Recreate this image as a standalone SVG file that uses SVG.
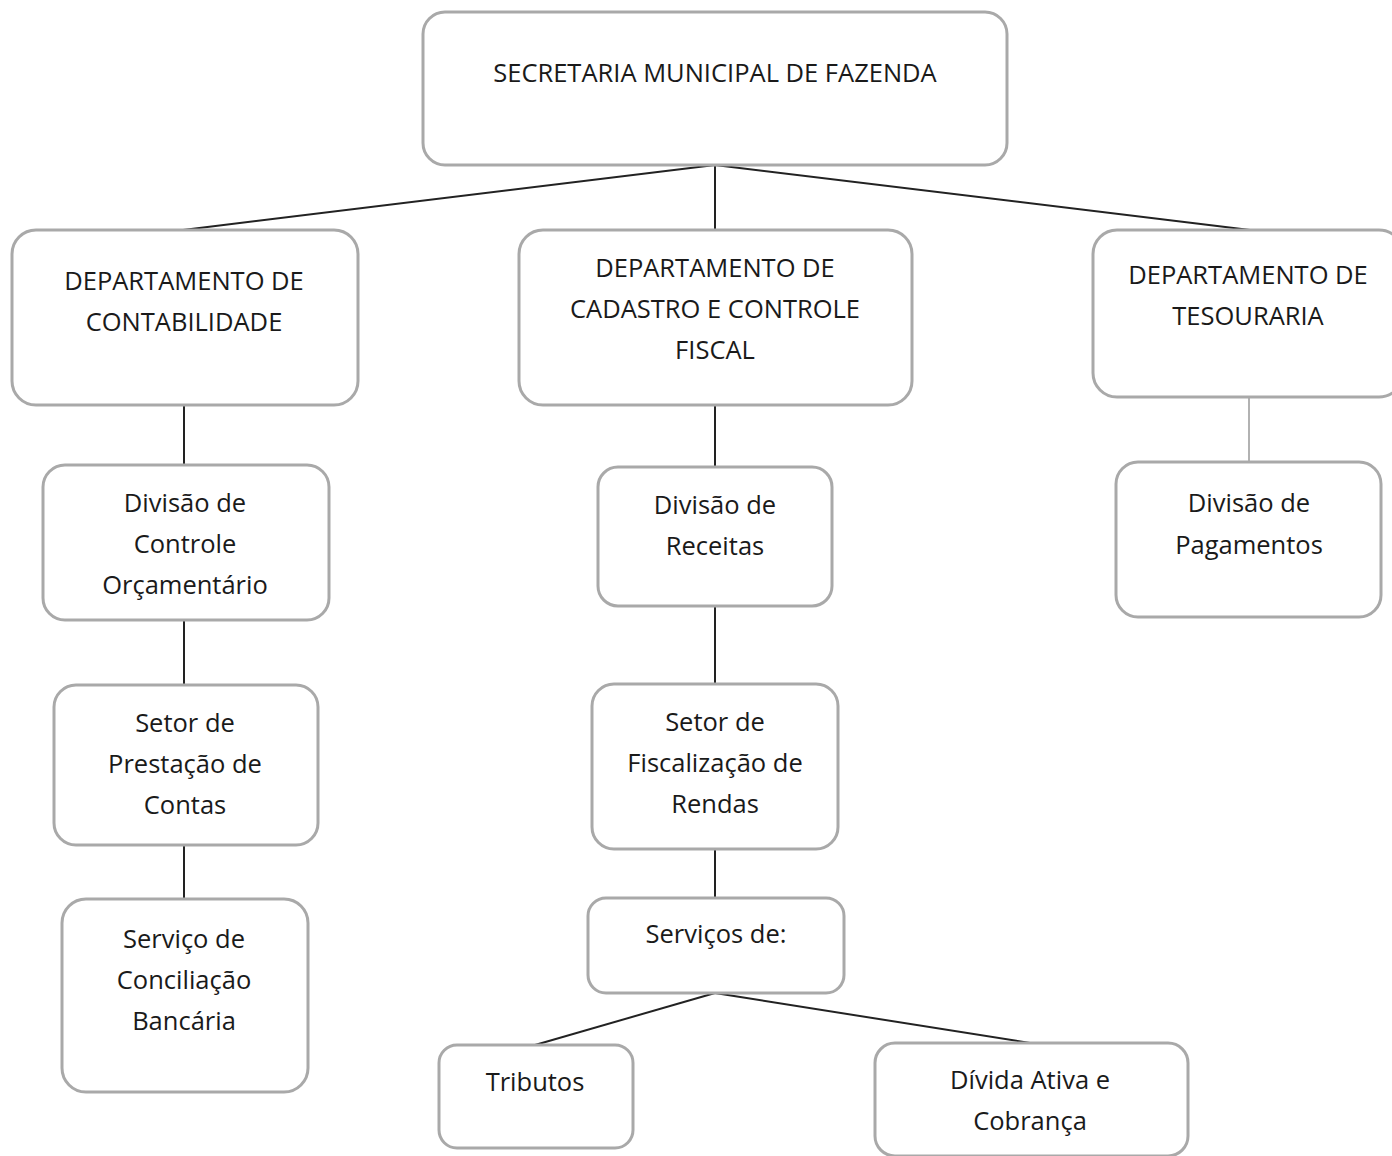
<svg xmlns="http://www.w3.org/2000/svg" width="1392" height="1156" viewBox="0 0 1392 1156">
<style>
.box{fill:#fff;stroke:#a9a9a9;stroke-width:3}
.t{font-family:"Open Sans","Liberation Sans",sans-serif;font-size:25.5px;fill:#1a1a1a;text-anchor:middle}
.c{stroke:#222;stroke-width:2;fill:none}
</style>
<rect width="1392" height="1156" fill="#fff"/>
<g id="connectors">
<line class="c" x1="715" y1="165" x2="183" y2="230"/>
<line class="c" x1="715" y1="165" x2="715" y2="230"/>
<line class="c" x1="715" y1="165" x2="1250" y2="230"/>
<line class="c" x1="184" y1="405" x2="184" y2="465"/>
<line class="c" x1="184" y1="620" x2="184" y2="685"/>
<line class="c" x1="184" y1="845" x2="184" y2="899"/>
<line class="c" x1="715" y1="405" x2="715" y2="467"/>
<line class="c" x1="715" y1="606" x2="715" y2="684"/>
<line class="c" x1="715" y1="849" x2="715" y2="898"/>
<line x1="1249" y1="397" x2="1249" y2="462" stroke="#999" stroke-width="1.5"/>
<line class="c" x1="715" y1="993" x2="535" y2="1045"/>
<line class="c" x1="715" y1="993" x2="1030" y2="1043"/>
</g>
<g id="secretaria"><rect class="box" x="423" y="12" width="584" height="153" rx="22"/>
<text class="t" x="715" y="82">SECRETARIA MUNICIPAL DE FAZENDA</text></g>
<g id="contabilidade"><rect class="box" x="12" y="230" width="346" height="175" rx="24"/>
<text class="t" x="184" y="290">DEPARTAMENTO DE</text><text class="t" x="184" y="331">CONTABILIDADE</text></g>
<g id="cadastro"><rect class="box" x="519" y="230" width="393" height="175" rx="24"/>
<text class="t" x="715" y="277">DEPARTAMENTO DE</text><text class="t" x="715" y="318">CADASTRO E CONTROLE</text><text class="t" x="715" y="359">FISCAL</text></g>
<g id="tesouraria"><rect class="box" x="1093" y="230" width="310" height="167" rx="24"/>
<text class="t" x="1248" y="284">DEPARTAMENTO DE</text><text class="t" x="1248" y="325">TESOURARIA</text></g>
<g id="div-controle"><rect class="box" x="43" y="465" width="286" height="155" rx="22"/>
<text class="t" x="185" y="512">Divisão de</text><text class="t" x="185" y="553">Controle</text><text class="t" x="185" y="594">Orçamentário</text></g>
<g id="div-receitas"><rect class="box" x="598" y="467" width="234" height="139" rx="20"/>
<text class="t" x="715" y="514">Divisão de</text><text class="t" x="715" y="555">Receitas</text></g>
<g id="div-pagamentos"><rect class="box" x="1116" y="462" width="265" height="155" rx="22"/>
<text class="t" x="1249" y="512">Divisão de</text><text class="t" x="1249" y="554">Pagamentos</text></g>
<g id="setor-prestacao"><rect class="box" x="54" y="685" width="264" height="160" rx="22"/>
<text class="t" x="185" y="732">Setor de</text><text class="t" x="185" y="773">Prestação de</text><text class="t" x="185" y="814">Contas</text></g>
<g id="setor-fiscalizacao"><rect class="box" x="592" y="684" width="246" height="165" rx="22"/>
<text class="t" x="715" y="731">Setor de</text><text class="t" x="715" y="772">Fiscalização de</text><text class="t" x="715" y="813">Rendas</text></g>
<g id="servico-conciliacao"><rect class="box" x="62" y="899" width="246" height="193" rx="24"/>
<text class="t" x="184" y="948">Serviço de</text><text class="t" x="184" y="989">Conciliação</text><text class="t" x="184" y="1030">Bancária</text></g>
<g id="servicos"><rect class="box" x="588" y="898" width="256" height="95" rx="18"/>
<text class="t" x="716" y="943">Serviços de:</text></g>
<g id="tributos"><rect class="box" x="439" y="1045" width="194" height="103" rx="18"/>
<text class="t" x="535" y="1091">Tributos</text></g>
<g id="divida"><rect class="box" x="875" y="1043" width="313" height="113" rx="20"/>
<text class="t" x="1030" y="1089">Dívida Ativa e</text><text class="t" x="1030" y="1130">Cobrança</text></g>
</svg>
